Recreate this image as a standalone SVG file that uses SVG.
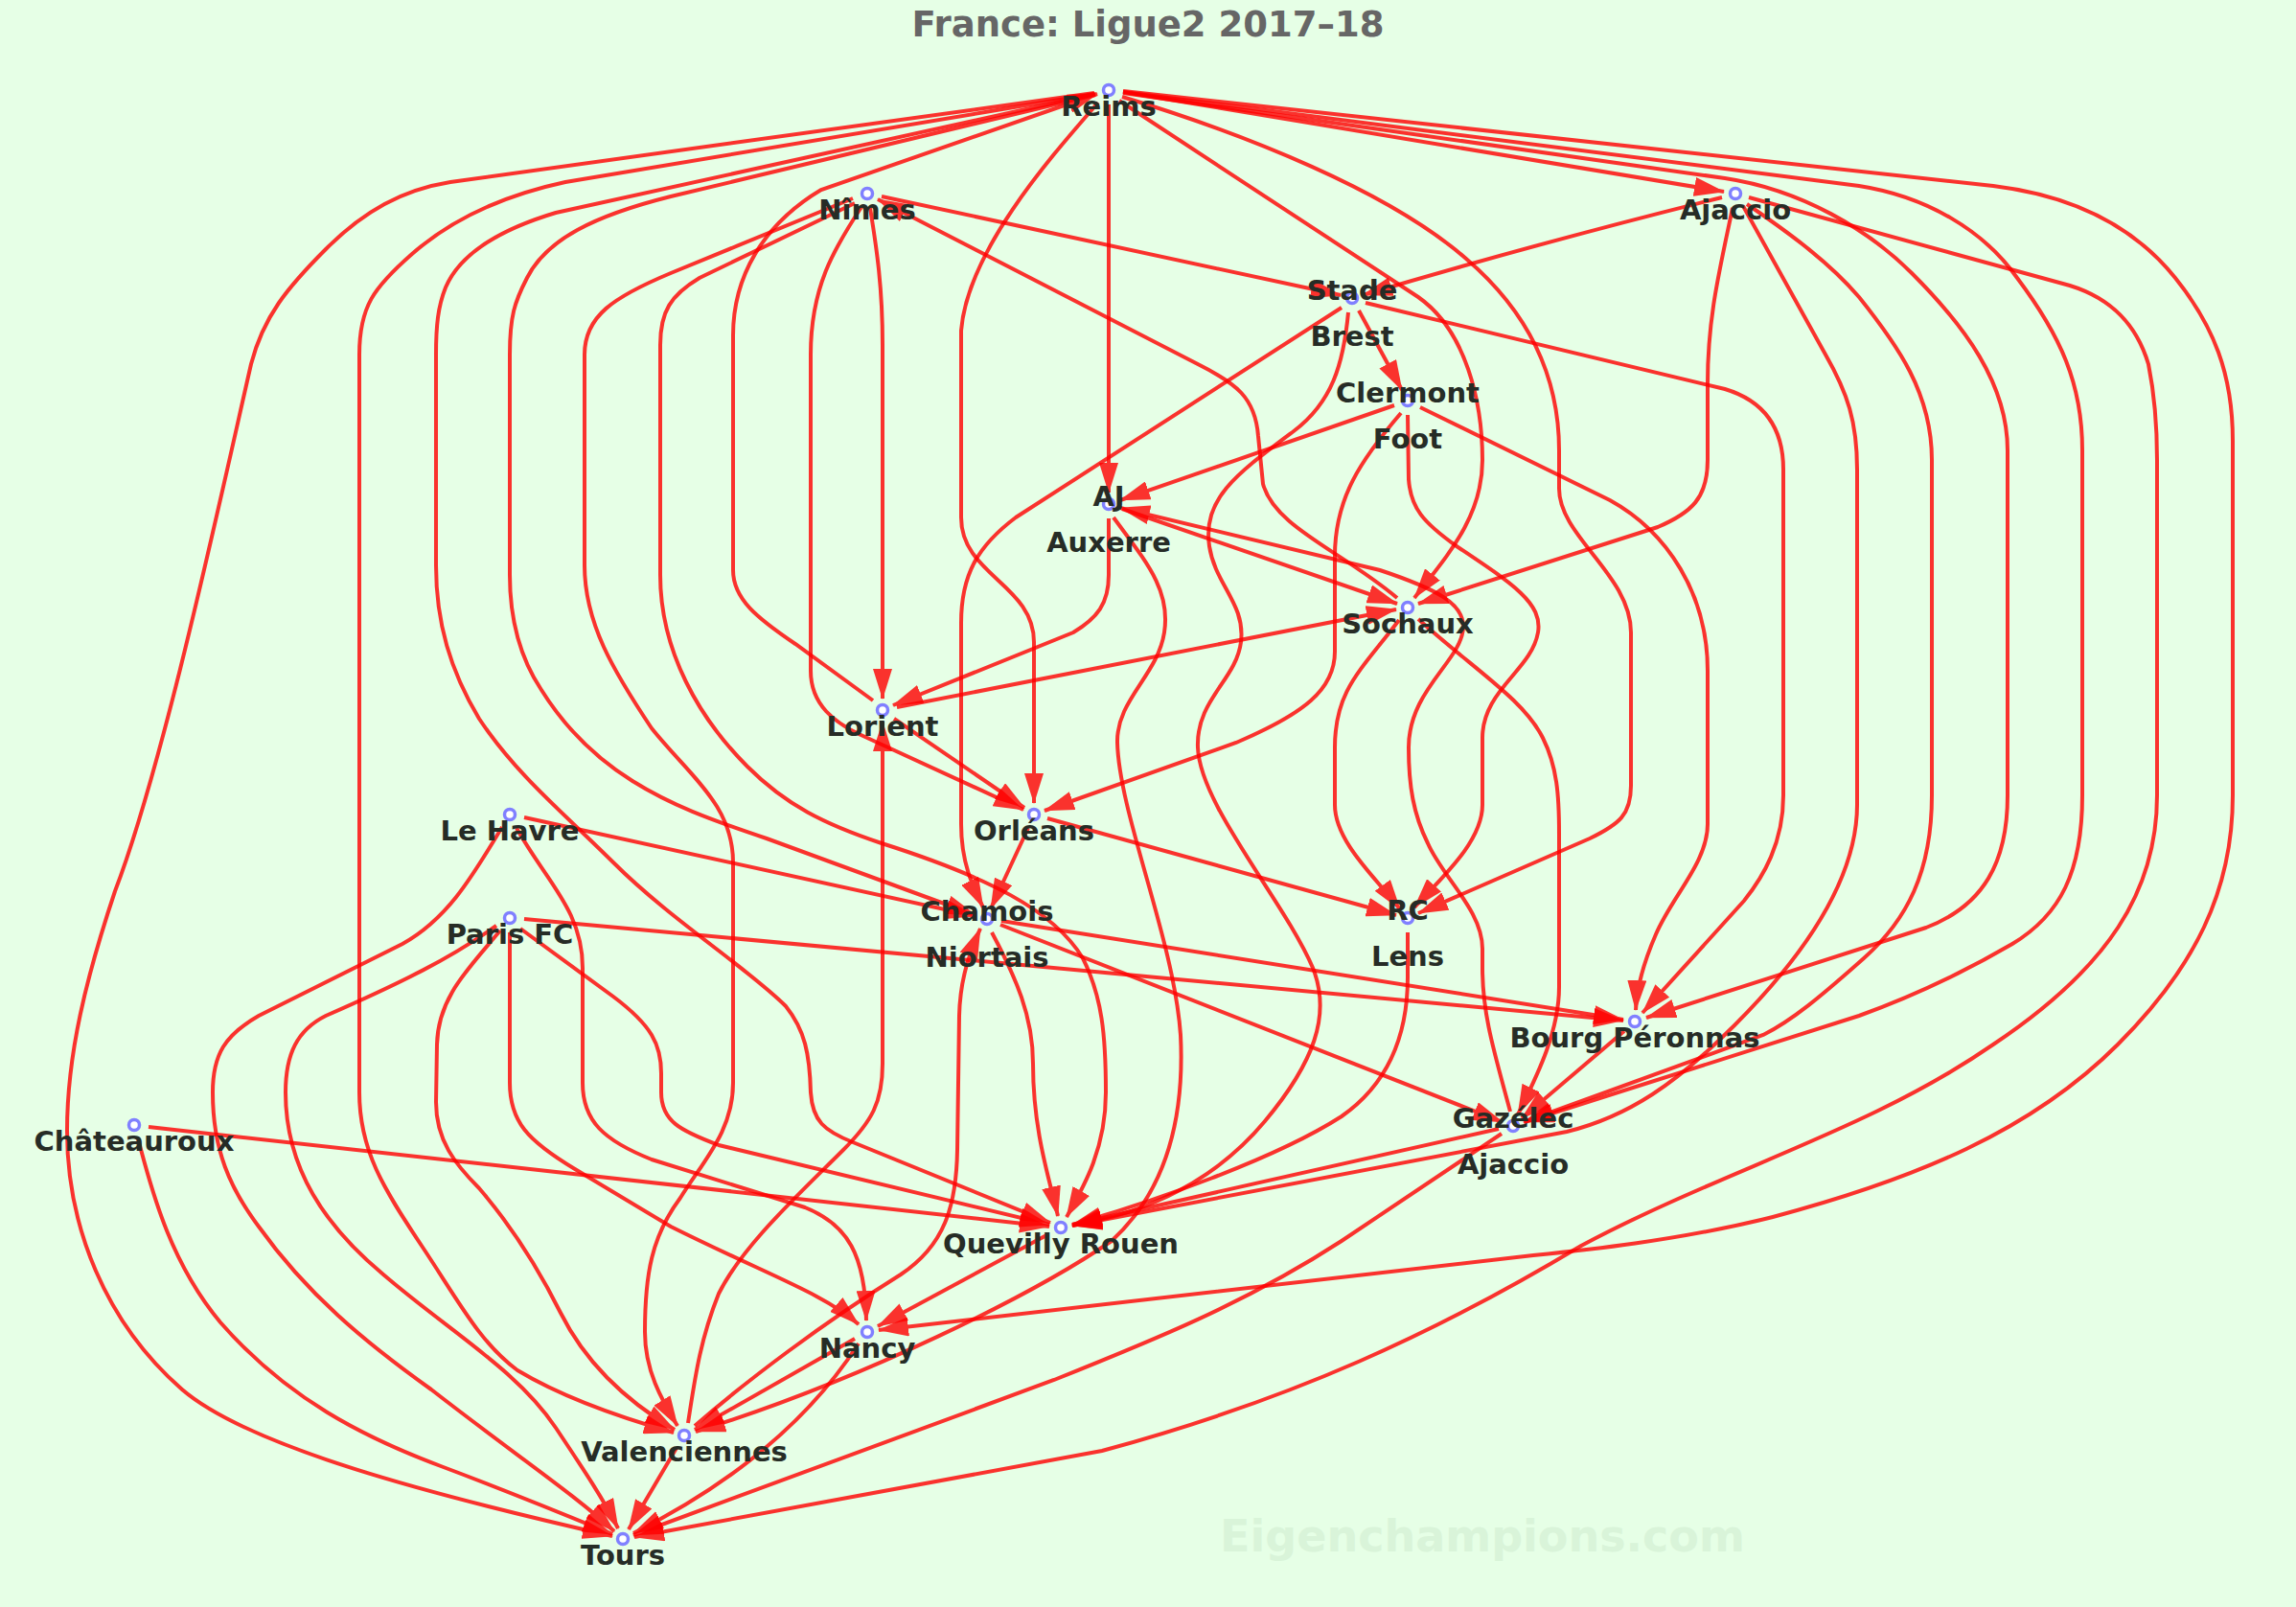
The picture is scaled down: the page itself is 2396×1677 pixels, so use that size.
<svg xmlns="http://www.w3.org/2000/svg" width="2396" height="1677" viewBox="0 0 2396 1677">
<defs>
<style>
.e{fill:none;stroke:#f00;stroke-width:4;opacity:0.8;marker-end:url(#ah)}
.n circle{fill:#fff;stroke:#8080ff;stroke-width:3.5}
.n text{font-family:'DejaVu Sans',Verdana,sans-serif;font-weight:bold;font-size:29px;fill:#262c26;text-anchor:middle}
.title{font-family:'DejaVu Sans',Verdana,sans-serif;font-weight:bold;font-size:37px;fill:#666;text-anchor:middle}
.wm{font-family:'DejaVu Sans',Verdana,sans-serif;font-weight:bold;font-size:46px;fill:#d9f4d9;text-anchor:middle}
</style>
<marker id="ah" viewBox="0 0 32 20" refX="31" refY="10" markerWidth="32" markerHeight="20" markerUnits="userSpaceOnUse" orient="auto"><path d="M0,0 L32,10 L0,20 z" fill="#f00"/></marker>
</defs>
<rect width="2396" height="1677" fill="#e6ffe6"/>
<text class="title" x="1198" y="38">France: Ligue2 2017–18</text>
<text class="wm" x="1547" y="1619">Eigenchampions.com</text>
<g id="edges">
<path class="e" d="M1172,96 L1799,200"/>
<path class="e" d="M1157,109 L1157,514"/>
<path class="e" d="M1146,107 C1100,160 1010,260 1003,345 L1003,540 C1003,600 1079,610 1079,670 L1079,838"/>
<path class="e" d="M1168,105 L1480,310 C1530,345 1547,420 1547,480 C1547,540 1510,580 1476,624"/>
<path class="e" d="M1171,101 C1300,140 1450,200 1530,270 C1600,330 1627,400 1627,470 L1627,510 C1627,560 1702,600 1702,660 L1702,820 C1702,850 1690,860 1659,875 L1480,953"/>
<path class="e" d="M1172,97 L1800,186 C1880,198 1950,240 1995,285 C2050,340 2095,400 2095,470 L2095,830 C2095,900 2070,945 2010,968 L1718,1062"/>
<path class="e" d="M1172,96 L1940,194 C2010,205 2070,240 2105,290 C2150,350 2173,400 2173,470 L2173,830 C2173,910 2150,955 2100,985 C2040,1020 1990,1042 1940,1060 L1591,1171"/>
<path class="e" d="M1172,95 L2080,194 C2170,205 2230,240 2270,290 C2310,340 2330,390 2330,460 L2330,830 C2330,930 2290,1010 2210,1090 C2120,1180 2000,1230 1850,1270 C1750,1295 1650,1305 1600,1310 L917,1388"/>
<path class="e" d="M1142,97 L470,190 C420,198 380,220 340,260 C300,300 275,330 262,380 C230,520 170,800 120,930 C90,1020 70,1100 70,1180 C70,1280 110,1380 190,1450 C260,1510 450,1560 639,1603"/>
<path class="e" d="M1142,98 L590,190 C520,205 470,230 430,265 C390,300 375,320 375,370 L375,1140 C375,1200 400,1240 440,1300 C480,1360 500,1400 540,1430 C590,1460 650,1480 703,1495"/>
<path class="e" d="M1143,98 L580,222 C520,240 480,265 465,300 C457,320 455,340 455,370 L455,590 C455,650 470,700 500,750 C540,810 590,850 640,900 C700,960 780,1010 820,1050 C840,1075 845,1100 846,1140 C848,1170 860,1180 890,1192 L1096,1276"/>
<path class="e" d="M1143,99 L700,205 C620,225 570,250 550,290 C537,315 532,330 532,370 L532,600 C532,650 545,690 565,720 C590,760 620,790 660,815 C700,840 740,855 800,875 L1018,955"/>
<path class="e" d="M911,731 L830,672 C790,645 765,625 765,595 L765,350 C765,290 795,235 857,198 L1145,98"/>
<path class="e" d="M920,205 L1399,308"/>
<path class="e" d="M908,217 C915,260 921,300 921,360 L921,729"/>
<path class="e" d="M899,216 C870,260 846,300 846,370 L846,700 C846,735 870,755 905,770 L1068,845"/>
<path class="e" d="M890,207 L700,285 C640,310 610,330 610,370 L610,590 C610,650 640,700 680,760 C720,810 765,840 765,900 L765,1130 C765,1180 735,1210 710,1250 C680,1290 673,1330 673,1390 C673,1430 690,1460 707,1488"/>
<path class="e" d="M892,212 L730,290 C700,308 689,325 689,360 L689,600 C689,680 730,750 780,800 C820,840 860,860 920,880 C1030,915 1100,950 1130,1000 C1150,1040 1154,1080 1154,1140 C1154,1200 1130,1240 1113,1270"/>
<path class="e" d="M1458,624 C1400,575 1330,550 1318,505 L1313,455 C1310,415 1290,400 1250,380 L916,208"/>
<path class="e" d="M1797,206 Q1600,255 1422,308"/>
<path class="e" d="M1808,217 C1795,280 1782,330 1782,400 L1782,480 C1782,520 1765,535 1730,550 L1480,630"/>
<path class="e" d="M1819,215 L1905,370 C1928,410 1938,440 1938,490 L1938,840 C1938,920 1880,1000 1810,1070 C1750,1130 1700,1165 1635,1181 L1119,1279"/>
<path class="e" d="M1823,213 C1870,245 1910,275 1940,310 C1980,360 2016,410 2016,480 L2016,830 C2016,910 1990,960 1945,1000 C1900,1040 1870,1065 1840,1080 L1590,1171"/>
<path class="e" d="M1825,206 L2160,298 C2205,312 2230,340 2242,380 C2248,410 2251,440 2251,480 L2251,830 C2251,930 2200,1010 2080,1090 C1950,1180 1800,1220 1650,1300 C1500,1390 1350,1460 1150,1514 L662,1604"/>
<path class="e" d="M1418,324 L1463,407"/>
<path class="e" d="M1400,321 L1060,540 C1020,570 1003,600 1003,650 L1003,860 C1003,900 1015,925 1026,947"/>
<path class="e" d="M1407,326 C1402,380 1390,420 1350,450 C1290,495 1255,520 1262,570 C1268,610 1300,630 1295,670 C1290,710 1248,730 1250,780 C1252,840 1340,940 1370,1010 C1390,1060 1370,1110 1320,1170 C1270,1230 1200,1265 1119,1279"/>
<path class="e" d="M1425,316 L1800,406 C1840,418 1861,445 1861,490 L1861,830 C1861,880 1840,915 1820,940 L1714,1057"/>
<path class="e" d="M1455,423 L1169,522"/>
<path class="e" d="M1462,431 C1420,480 1393,520 1393,580 L1393,680 C1393,720 1360,745 1290,775 L1090,846"/>
<path class="e" d="M1469,433 L1470,500 C1472,530 1485,545 1520,570 C1580,610 1610,630 1605,660 C1598,700 1547,720 1547,770 L1547,840 C1547,880 1500,920 1476,947"/>
<path class="e" d="M1482,425 L1680,522 C1740,555 1782,620 1782,700 L1782,860 C1782,900 1745,935 1728,975 C1715,1005 1708,1030 1707,1054"/>
<path class="e" d="M1157,541 L1157,600 C1157,630 1145,645 1120,660 L932,736"/>
<path class="e" d="M1171,531 L1458,630"/>
<path class="e" d="M1162,540 C1195,585 1222,615 1215,660 C1208,705 1165,730 1166,775 C1168,850 1225,980 1232,1080 C1236,1160 1220,1240 1160,1295 C1080,1350 900,1440 726,1494"/>
<path class="e" d="M1576,1160 C1560,1100 1547,1060 1547,1010 L1547,990 C1547,950 1505,915 1490,880 C1475,850 1470,820 1470,780 C1470,720 1525,690 1527,655 C1528,630 1500,615 1440,595 L1169,530"/>
<path class="e" d="M1460,647 C1420,700 1393,720 1393,780 L1393,840 C1393,880 1440,920 1461,949"/>
<path class="e" d="M1480,646 C1540,700 1590,730 1610,770 C1625,800 1627,830 1627,870 L1627,1030 C1627,1080 1600,1130 1584,1163"/>
<path class="e" d="M936,738 L1457,636"/>
<path class="e" d="M933,750 L1069,843"/>
<path class="e" d="M718,1485 C725,1440 730,1400 750,1350 C775,1300 830,1250 880,1200 C910,1170 921,1150 921,1110 L921,753"/>
<path class="e" d="M1073,864 L1034,948"/>
<path class="e" d="M1093,854 L1457,955"/>
<path class="e" d="M547,853 L1018,956"/>
<path class="e" d="M539,864 C570,920 608,950 608,1010 L608,1130 C608,1170 630,1190 680,1210 L840,1260 C885,1278 903,1310 904,1378"/>
<path class="e" d="M524,863 C490,920 465,960 420,985 L270,1060 C235,1080 222,1100 222,1140 C222,1200 240,1240 270,1280 C320,1350 380,1400 450,1450 C540,1520 600,1560 641,1598"/>
<path class="e" d="M1045,961 L1694,1064"/>
<path class="e" d="M1044,965 L1568,1171"/>
<path class="e" d="M1035,973 C1060,1020 1078,1060 1078,1110 C1078,1180 1095,1230 1104,1269"/>
<path class="e" d="M725,1488 C780,1440 860,1380 940,1330 C985,1300 998,1260 999,1200 L1001,1060 C1002,1020 1012,995 1023,969"/>
<path class="e" d="M1469,973 L1469,1020 C1469,1080 1450,1130 1400,1165 C1330,1210 1200,1255 1119,1278"/>
<path class="e" d="M547,959 L1694,1065"/>
<path class="e" d="M543,969 L640,1040 C680,1070 690,1090 690,1120 L690,1140 C690,1170 710,1180 750,1195 L1095,1278"/>
<path class="e" d="M532,973 L532,1130 C532,1170 550,1190 600,1220 L700,1280 C800,1330 860,1350 896,1382"/>
<path class="e" d="M522,971 C490,1010 457,1040 456,1090 L455,1150 C455,1190 475,1215 500,1240 C530,1275 560,1320 585,1370 C610,1420 650,1460 704,1492"/>
<path class="e" d="M518,966 C470,1000 420,1025 340,1060 C310,1075 298,1100 298,1140 C298,1220 340,1280 400,1330 C470,1390 540,1430 580,1490 C610,1535 630,1565 645,1595"/>
<path class="e" d="M1695,1076 L1588,1167"/>
<path class="e" d="M1564,1178 L1119,1278"/>
<path class="e" d="M1567,1183 L1400,1295 C1300,1360 1200,1400 1100,1440 L661,1602"/>
<path class="e" d="M155,1176 L1095,1280"/>
<path class="e" d="M144,1188 C160,1250 180,1320 230,1380 C300,1460 380,1500 460,1530 C540,1560 600,1585 639,1601"/>
<path class="e" d="M1094,1288 L916,1384"/>
<path class="e" d="M892,1397 L725,1492"/>
<path class="e" d="M896,1402 Q820,1520 661,1600"/>
<path class="e" d="M706,1511 L656,1596"/>
</g>
<g id="n-reims" class="n"><circle cx="1157" cy="94" r="5.5"/><text x="1157" y="121">Reims</text></g>
<g id="n-nimes" class="n"><circle cx="905" cy="202" r="5.5"/><text x="905" y="229">Nîmes</text></g>
<g id="n-ajaccio" class="n"><circle cx="1811" cy="202" r="5.5"/><text x="1811" y="229">Ajaccio</text></g>
<g id="n-brest" class="n"><circle cx="1411" cy="311" r="5.5"/><text x="1411" y="313">Stade</text><text x="1411" y="361">Brest</text></g>
<g id="n-clermont" class="n"><circle cx="1469" cy="418" r="5.5"/><text x="1469" y="420">Clermont</text><text x="1469" y="468">Foot</text></g>
<g id="n-auxerre" class="n"><circle cx="1157" cy="526" r="5.5"/><text x="1157" y="528">AJ</text><text x="1157" y="576">Auxerre</text></g>
<g id="n-sochaux" class="n"><circle cx="1469" cy="634" r="5.5"/><text x="1469" y="661">Sochaux</text></g>
<g id="n-lorient" class="n"><circle cx="921" cy="741" r="5.5"/><text x="921" y="768">Lorient</text></g>
<g id="n-orleans" class="n"><circle cx="1079" cy="850" r="5.5"/><text x="1079" y="877">Orléans</text></g>
<g id="n-lehavre" class="n"><circle cx="532" cy="850" r="5.5"/><text x="532" y="877">Le Havre</text></g>
<g id="n-niort" class="n"><circle cx="1030" cy="959" r="5.5"/><text x="1030" y="961">Chamois</text><text x="1030" y="1009">Niortais</text></g>
<g id="n-lens" class="n"><circle cx="1469" cy="958" r="5.5"/><text x="1469" y="960">RC</text><text x="1469" y="1008">Lens</text></g>
<g id="n-parisfc" class="n"><circle cx="532" cy="958" r="5.5"/><text x="532" y="985">Paris FC</text></g>
<g id="n-bourg" class="n"><circle cx="1706" cy="1066" r="5.5"/><text x="1706" y="1093">Bourg Péronnas</text></g>
<g id="n-gazelec" class="n"><circle cx="1579" cy="1175" r="5.5"/><text x="1579" y="1177">Gazélec</text><text x="1579" y="1225">Ajaccio</text></g>
<g id="n-chateauroux" class="n"><circle cx="140" cy="1174" r="5.5"/><text x="140" y="1201">Châteauroux</text></g>
<g id="n-quevilly" class="n"><circle cx="1107" cy="1281" r="5.5"/><text x="1107" y="1308">Quevilly Rouen</text></g>
<g id="n-nancy" class="n"><circle cx="905" cy="1390" r="5.5"/><text x="905" y="1417">Nancy</text></g>
<g id="n-valenciennes" class="n"><circle cx="714" cy="1498" r="5.5"/><text x="714" y="1525">Valenciennes</text></g>
<g id="n-tours" class="n"><circle cx="650" cy="1606" r="5.5"/><text x="650" y="1633">Tours</text></g>
</svg>
